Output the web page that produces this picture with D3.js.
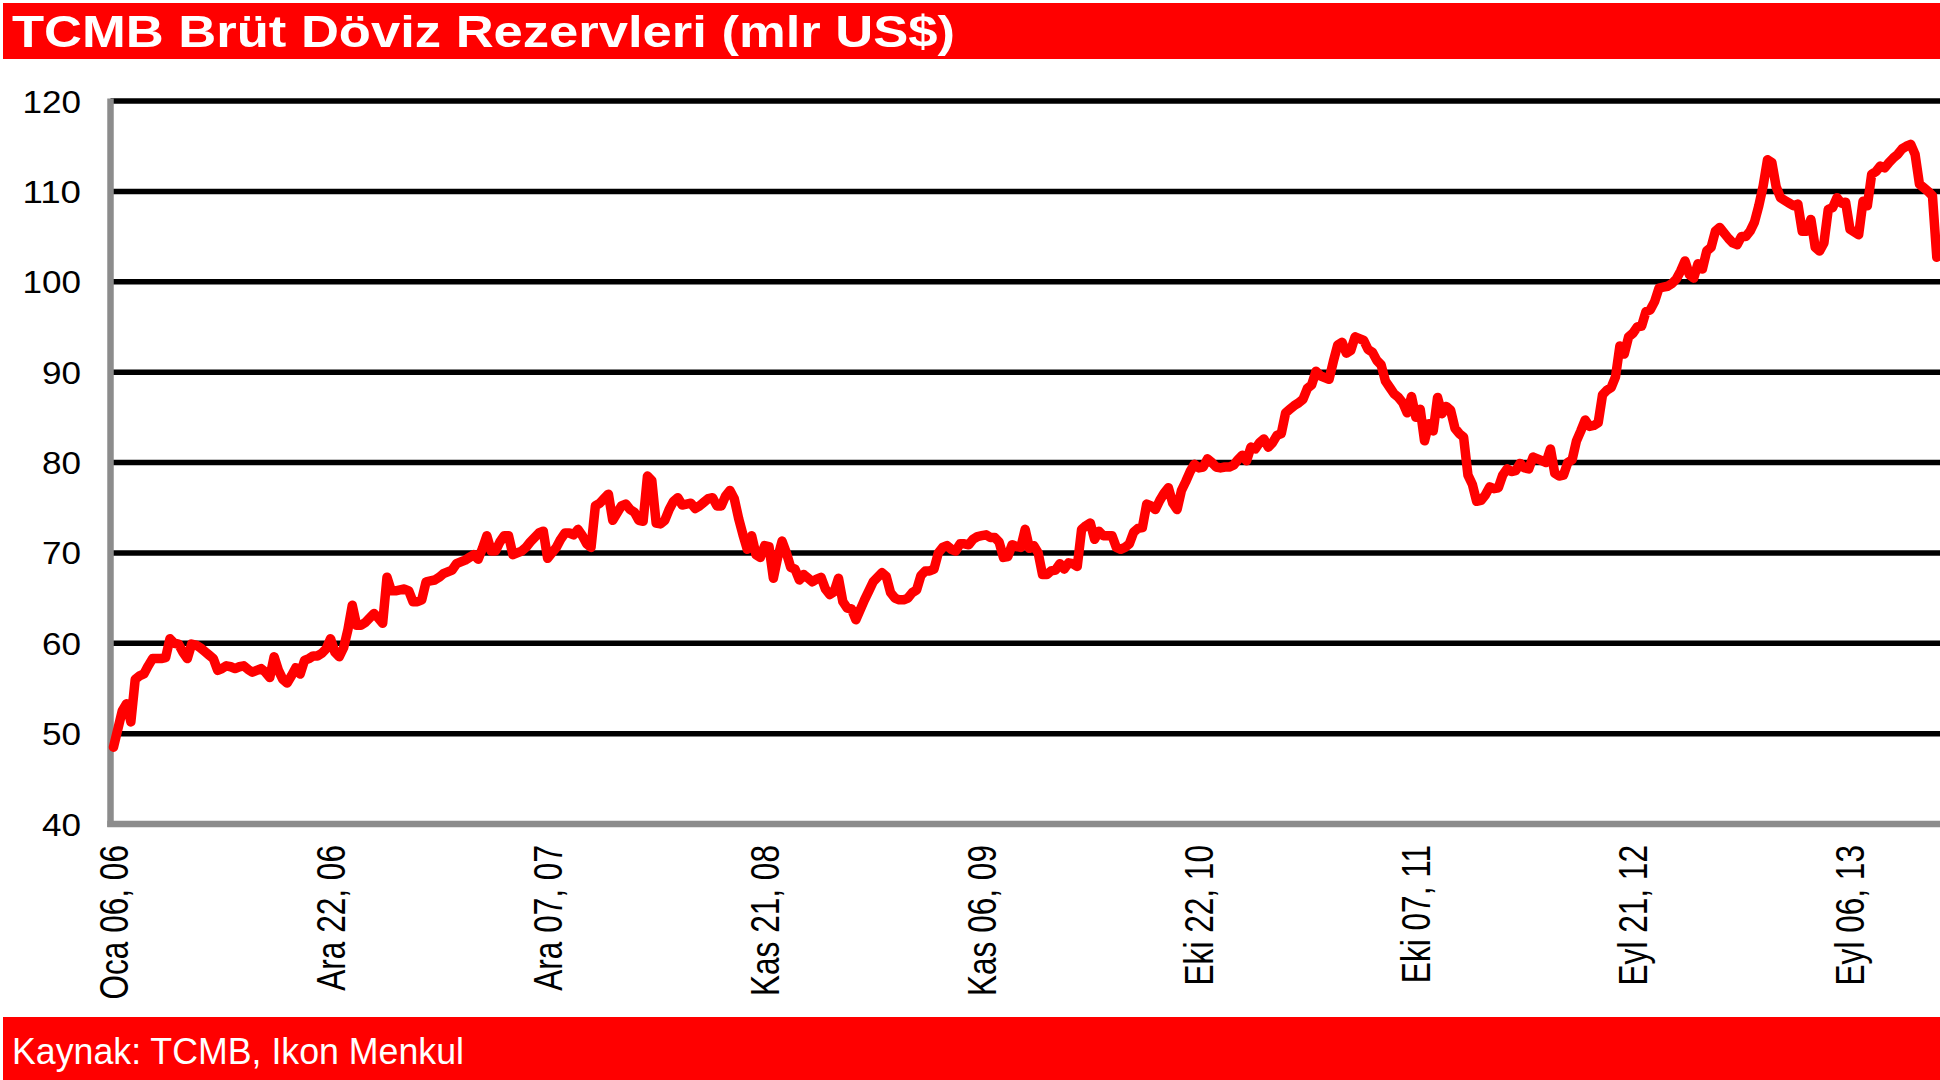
<!DOCTYPE html>
<html>
<head>
<meta charset="utf-8">
<script src="https://cdn.jsdelivr.net/npm/d3@7"></script>
<style>
html,body{margin:0;padding:0;background:#fff;}
svg{display:block;}
text{font-family:"Liberation Sans",Arial,Helvetica,sans-serif;}
</style>
</head>
<body>
<svg id="chart" width="1940" height="1080"></svg>
<script>
// ---- data ----
const titleText = "TCMB Brüt Döviz Rezervleri (mlr US$)";
const sourceText = "Kaynak: TCMB, Ikon Menkul";
const yTicks = [40, 50, 60, 70, 80, 90, 100, 110, 120];
const xTickWeeks = [0, 50, 100, 150, 200, 250, 300, 350, 400];
const xTickLabels = ["Oca 06, 06","Ara 22, 06","Ara 07, 07","Kas 21, 08","Kas 06, 09","Eki 22, 10","Eki 07, 11","Eyl 21, 12","Eyl 06, 13"];
// weekly gross FX reserves (bn US$), week 0 = 06.01.2006
const reserves = [
48.5,50.5,52.5,53.3,51.3,56.0,56.4,56.6,57.5,58.3,58.3,
58.3,58.4,60.5,60.0,59.9,59.0,58.3,59.9,59.8,59.5,
59.1,58.7,58.3,57.0,57.2,57.5,57.4,57.2,57.4,57.5,
57.1,56.8,57.0,57.2,56.8,56.2,58.5,57.0,56.0,55.6,
56.4,57.3,56.6,58.1,58.3,58.6,58.6,58.9,59.4,60.5,
59.0,58.5,59.5,61.5,64.2,62.0,62.0,62.3,62.8,63.3,
62.8,62.2,67.3,65.8,65.8,65.9,66.0,65.8,64.6,64.6,
64.8,66.8,66.9,67.0,67.3,67.7,67.9,68.1,68.8,69.0,
69.2,69.5,69.8,69.3,70.5,71.9,70.2,70.2,71.2,71.9,
71.9,69.8,70.0,70.2,70.6,71.2,71.7,72.2,72.4,69.4,
70.0,70.6,71.5,72.2,72.2,72.0,72.6,71.9,71.0,70.6,
75.2,75.5,76.0,76.5,73.6,74.4,75.2,75.4,74.8,74.5,
73.6,73.5,78.5,78.0,73.3,73.2,73.6,74.8,75.7,76.1,
75.3,75.4,75.5,74.9,75.2,75.6,76.0,76.1,75.2,75.2,
76.3,76.9,76.0,73.8,72.0,70.4,71.9,69.8,69.5,70.8,
70.7,67.2,69.5,71.3,70.0,68.4,68.2,67.0,67.6,67.2,
66.8,67.1,67.3,66.0,65.4,65.7,67.2,64.6,63.9,63.8,
62.6,63.7,64.8,65.8,66.8,67.3,67.8,67.4,65.6,65.0,
64.8,64.8,65.0,65.6,65.9,67.5,68.0,68.0,68.2,70.0,
70.6,70.8,70.4,70.2,71.0,71.0,70.9,71.5,71.8,71.9,
72.0,71.7,71.7,71.2,69.5,69.6,70.9,70.7,70.6,72.6,
70.5,70.8,70.0,67.6,67.6,68.0,68.1,68.8,68.2,68.9,
68.8,68.5,72.6,73.0,73.3,71.5,72.4,71.9,71.9,71.9,
70.6,70.4,70.6,71.0,72.3,72.7,72.8,75.4,75.2,74.8,
75.8,76.6,77.2,75.5,74.8,76.9,77.9,79.0,79.8,79.4,
79.5,80.4,80.0,79.5,79.4,79.5,79.5,79.7,80.3,80.8,
80.2,81.7,81.5,82.2,82.6,81.7,82.2,83.0,83.2,85.5,
85.9,86.3,86.6,87.0,88.2,88.6,90.1,89.6,89.4,89.2,
91.2,93.0,93.3,92.1,92.4,93.9,93.7,93.5,92.5,92.2,
91.3,90.8,89.0,88.3,87.6,87.2,86.6,85.5,87.3,85.0,
85.9,82.4,84.3,83.5,87.2,85.4,86.2,85.8,83.8,83.2,
82.8,78.6,77.6,75.7,75.8,76.4,77.3,77.1,77.2,78.6,
79.3,79.0,79.1,79.9,79.4,79.3,80.6,80.4,80.2,80.0,
81.5,78.8,78.5,78.6,80.0,80.3,82.4,83.5,84.7,84.0,
84.1,84.4,87.5,88.0,88.3,89.5,92.9,92.0,93.9,94.3,
95.0,95.1,96.7,96.9,97.8,99.3,99.4,99.5,99.8,100.3,
101.2,102.3,100.8,100.4,102.0,101.4,103.4,103.8,105.6,106.0,
105.4,104.8,104.3,104.1,105.0,105.0,105.6,106.6,108.4,110.6,
113.5,113.2,110.5,109.3,109.0,108.7,108.4,108.6,105.6,105.6,
106.9,103.8,103.4,104.3,108.0,108.2,109.3,108.7,108.8,105.8,
105.5,105.2,108.9,108.4,111.9,112.2,112.8,112.6,113.2,113.7,
114.1,114.7,115.0,115.2,114.1,110.8,110.4,110.0,109.5,102.7
];

// ---- layout ----
const svg = d3.select("#chart");
const W = 1940, H = 1080;
const plotLeft = 110.5, plotRight = 1940, plotTop = 101, plotBottom = 824;

const x = d3.scaleLinear().domain([0, reserves.length - 1]).range([113.5, 1936.8]);
const y = d3.scaleLinear().domain([40, 120]).range([plotBottom, plotTop]);

// title bar
svg.append("rect").attr("x", 3).attr("y", 3).attr("width", W - 3).attr("height", 56).attr("fill", "#ff0000");
svg.append("text").attr("x", 12).attr("y", 47)
  .attr("font-size", 45).attr("font-weight", "bold").attr("fill", "#fff")
  .attr("textLength", 943).attr("lengthAdjust", "spacingAndGlyphs")
  .text(titleText);

// footer bar
svg.append("rect").attr("x", 3).attr("y", 1017).attr("width", W - 3).attr("height", 63).attr("fill", "#ff0000");
svg.append("text").attr("x", 12).attr("y", 1064)
  .attr("font-size", 36).attr("fill", "#fff")
  .attr("textLength", 452).attr("lengthAdjust", "spacingAndGlyphs")
  .text(sourceText);

// gridlines
svg.append("g").selectAll("line").data(yTicks.filter(d => d > 40)).join("line")
  .attr("x1", plotLeft).attr("x2", plotRight)
  .attr("y1", d => y(d)).attr("y2", d => y(d))
  .attr("stroke", "#000").attr("stroke-width", 5.5);

// axes (gray)
svg.append("line").attr("x1", plotLeft).attr("x2", plotLeft).attr("y1", y(120) - 2.5).attr("y2", plotBottom + 3)
  .attr("stroke", "#8c8c8c").attr("stroke-width", 6.5);
svg.append("line").attr("x1", plotLeft - 3.2).attr("x2", plotRight).attr("y1", plotBottom).attr("y2", plotBottom)
  .attr("stroke", "#8c8c8c").attr("stroke-width", 6.5);

// y labels
svg.append("g").selectAll("text").data(yTicks).join("text")
  .attr("x", 81).attr("y", d => y(d) + 11.5)
  .attr("text-anchor", "end").attr("font-size", 32).attr("fill", "#000")
  .attr("textLength", d => String(d).length * 19.5).attr("lengthAdjust", "spacingAndGlyphs")
  .text(d => d);

// x labels
svg.append("g").selectAll("text").data(xTickWeeks).join("text")
  .attr("transform", (d) => `translate(${x(d) + 14.5},845) rotate(-90) scale(0.79,1)`)
  .attr("text-anchor", "end").attr("font-size", 40).attr("fill", "#000")
  .text((d, i) => xTickLabels[i]);

// series line
const line = d3.line().x((d, i) => x(i)).y(d => y(d));
svg.append("path").datum(reserves).attr("d", line)
  .attr("fill", "none").attr("stroke", "#ff0000").attr("stroke-width", 9.5)
  .attr("stroke-linejoin", "round").attr("stroke-linecap", "round");
</script>
</body>
</html>
